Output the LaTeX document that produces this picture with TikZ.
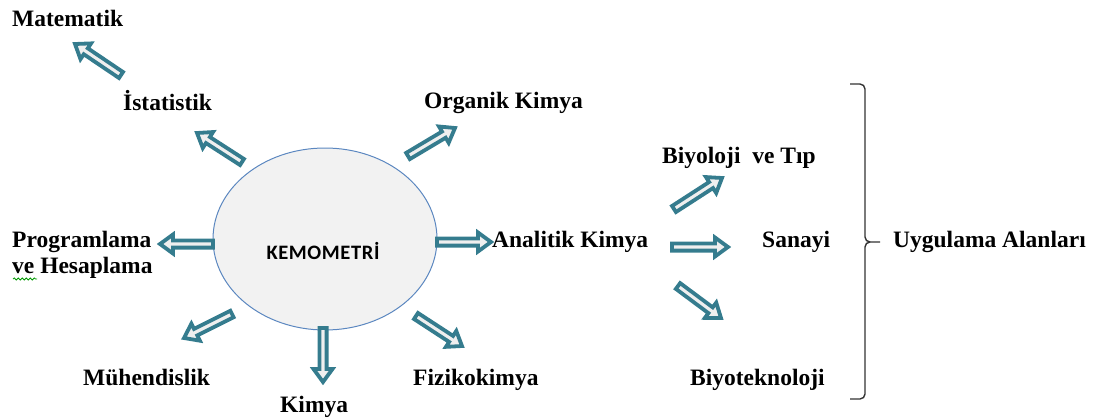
\documentclass[tikz,border=0pt]{standalone}
\usepackage{fontspec}
\setmainfont{Liberation Serif}
\newfontfamily\calfont[LetterSpace=3]{Carlito}
\usetikzlibrary{calc,decorations.pathmorphing}
\definecolor{arrteal}{HTML}{357C8E}
\definecolor{arrfill}{HTML}{EFEFEF}
\definecolor{ellline}{HTML}{5B87C0}
\definecolor{ellfill}{HTML}{F2F2F2}
\tikzset{
  lbl/.style={anchor=base west, inner sep=0pt, font=\bfseries\fontsize{23.5}{28}\selectfont},
  barrowstyle/.style={draw=arrteal, fill=arrfill, line width=3.8pt, line join=miter},
}
\newcommand\barrow[2]{%
  \path (#2) coordinate (bt) ($(#2)!13pt!(#1)$) coordinate (bn);
  \draw[barrowstyle] ($(#1)!3.6pt!90:(bt)$) -- ($(bn)!3.6pt!90:(bt)$) -- ($(bn)!9.5pt!90:(bt)$) -- (bt)
    -- ($(bn)!9.5pt!-90:(bt)$) -- ($(bn)!3.6pt!-90:(bt)$) -- ($(#1)!3.6pt!-90:(bt)$) -- cycle;}
\begin{document}
\begin{tikzpicture}[x=1pt,y=-1pt]
\useasboundingbox (0,0) rectangle (1096,418);
% central ellipse
\draw[ellline, fill=ellfill, line width=1pt] (325,239) ellipse [x radius=112, y radius=91];
\node[anchor=base, inner sep=0pt, font=\calfont\bfseries\fontsize{20.5}{24}\selectfont] (kem) at (323,259) {KEMOMETRİ};
% labels
\node[lbl] (mat) at (12,26) {Matematik};
\node[lbl] (ist) at (123,110) {İstatistik};
\node[lbl] (org) at (424,108) {Organik Kimya};
\node[lbl] (prog) at (12,247) {Programlama};
\node[lbl] (hes) at (12,273) {ve Hesaplama};
\node[lbl] (ana) at (492,247) {Analitik Kimya};
\node[lbl] (bio) at (662,163) {Biyoloji \ ve Tıp};
\node[lbl] (san) at (762,247) {Sanayi};
\node[lbl] (uyg) at (893,247) {Uygulama Alanları};
\node[lbl] (muh) at (83,385) {Mühendislik};
\node[lbl] (fiz) at (413,385) {Fizikokimya};
\node[lbl] (kim) at (280,412) {Kimya};
\node[lbl] (biyt) at (690,385) {Biyoteknoloji};
% spell-check squiggle
\draw[green!60!black, line width=0.8pt, decorate, decoration={snake, amplitude=1pt, segment length=4pt}] (13,279) -- (37,279);
% arrow end points
\coordinate (a1t) at (121,75); \coordinate (a1h) at (75,44);
\coordinate (a2t) at (242,162); \coordinate (a2h) at (197,133);
\coordinate (a3t) at (408,156); \coordinate (a3h) at (455,128);
\coordinate (a4t) at (213,244); \coordinate (a4h) at (160,244);
\coordinate (a5t) at (437,242); \coordinate (a5h) at (491,242);
\coordinate (a6t) at (232,314); \coordinate (a6h) at (184,338);
\coordinate (a7t) at (323,328); \coordinate (a7h) at (323,382);
\coordinate (a8t) at (416,316); \coordinate (a8h) at (462,346);
\coordinate (a9t) at (674,209); \coordinate (a9h) at (722,178);
\coordinate (a10t) at (672,247); \coordinate (a10h) at (728,247);
\coordinate (a11t) at (678,286); \coordinate (a11h) at (721,318);
\barrow{a1t}{a1h}
\barrow{a2t}{a2h}
\barrow{a3t}{a3h}
\barrow{a4t}{a4h}
\barrow{a5t}{a5h}
\barrow{a6t}{a6h}
\barrow{a7t}{a7h}
\barrow{a8t}{a8h}
\barrow{a9t}{a9h}
\barrow{a10t}{a10h}
\barrow{a11t}{a11h}
% brace
\coordinate (brtop) at (850,84);
\coordinate (brbot) at (850,399);
\coordinate (brtip) at (880,242);
\draw[line width=1.4pt, black!80] (brtop) -- (860,84) to[out=0,in=90] (865,89) -- (865,237)
  to[out=-90,in=180] (870,242) -- (brtip);
\draw[line width=1.4pt, black!80] (870,242) to[out=180,in=90] (865,247) -- (865,394)
  to[out=-90,in=0] (860,399) -- (brbot);
\end{tikzpicture}
\end{document}
